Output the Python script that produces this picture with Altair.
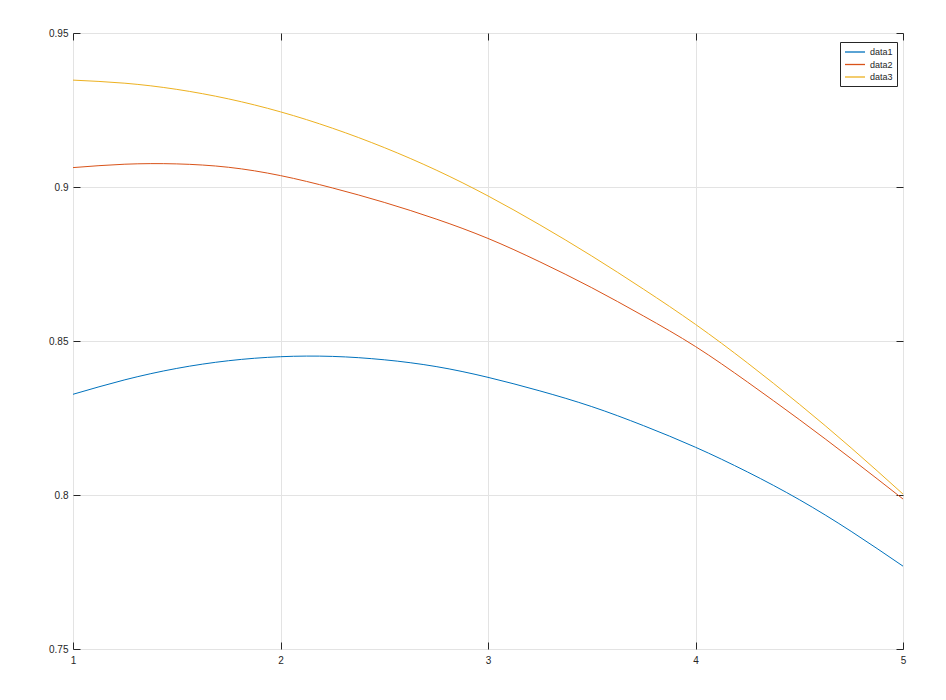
import altair as alt
import pandas as pd

x_vals = [1.0, 1.25, 1.5, 1.75, 2.0, 2.25, 2.5, 2.75, 3.0, 3.25, 3.5, 3.75, 4.0, 4.25, 4.5, 4.75, 5.0]
data1 = [0.8327, 0.8374, 0.8411, 0.8436, 0.8449, 0.8450, 0.8439, 0.8417, 0.8382, 0.8338, 0.8287, 0.8225, 0.8155, 0.8075, 0.7985, 0.7882, 0.7769]
data2 = [0.9063, 0.9074, 0.9075, 0.9064, 0.9037, 0.8997, 0.8950, 0.8896, 0.8833, 0.8757, 0.8673, 0.8581, 0.8482, 0.8367, 0.8245, 0.8118, 0.7987]
data3 = [0.9347, 0.9337, 0.9317, 0.9286, 0.9244, 0.9191, 0.9128, 0.9055, 0.8971, 0.8877, 0.8776, 0.8668, 0.8554, 0.8429, 0.8295, 0.8153, 0.8003]
series_names = ["data1", "data2", "data3"]
series_colors = ["#0072BD", "#D95319", "#EDB120"]
x_ticks = [1, 2, 3, 4, 5]
y_ticks = [0.75, 0.8, 0.85, 0.9, 0.95]

rows = []
for name, vals in zip(series_names, [data1, data2, data3]):
    for xv, yv in zip(x_vals, vals):
        rows.append({"x": xv, "y": yv, "series": name})
df = pd.DataFrame(rows)

FONT = "Liberation Sans"
TXT = "#262626"
GRID = "#e3e3e3"

xscale = alt.Scale(domain=[1, 5], nice=False, zero=False)
yscale = alt.Scale(domain=[0.75, 0.95], nice=False, zero=False)

common_axis = dict(
    grid=True, gridColor=GRID, gridWidth=1, domain=False,
    ticks=True, tickColor=TXT, tickSize=7, offset=-7, tickWidth=1,
    labelFont=FONT, labelFontSize=10, labelColor=TXT,
)

lines = alt.Chart(df).mark_line(strokeWidth=1, interpolate="natural").encode(
    x=alt.X("x:Q", scale=xscale, axis=alt.Axis(values=x_ticks, title=None, labelPadding=6, labelFlush=False, **common_axis)),
    y=alt.Y("y:Q", scale=yscale, axis=alt.Axis(values=y_ticks, title=None, labelPadding=5, format="~g", labelFlush=False, **common_axis)),
    color=alt.Color("series:N", scale=alt.Scale(domain=series_names, range=series_colors),
                    legend=alt.Legend(title=None, orient="none", legendX=767, legendY=9,
                                      symbolType="M-2,0L2,0", symbolSize=100, symbolStrokeWidth=1.3,
                                      symbolOffset=5,
                                      labelFont=FONT, labelFontSize=9, labelColor=TXT,
                                      strokeColor=TXT, fillColor="white", padding=4,
                                      rowPadding=1.5, labelOffset=9, cornerRadius=0)),
)

mirror_axis = dict(
    grid=False, domain=False, labels=False,
    ticks=True, tickColor=TXT, tickSize=7, offset=-7, tickWidth=1,
)

mirror = alt.Chart(df).mark_line(opacity=0).encode(
    x=alt.X("x:Q", scale=xscale, axis=alt.Axis(values=x_ticks, title=None, orient="top", **mirror_axis)),
    y=alt.Y("y:Q", scale=yscale, axis=alt.Axis(values=y_ticks, title=None, orient="right", **mirror_axis)),
    detail="series:N",
)

chart = alt.layer(lines, mirror).resolve_axis(x="independent", y="independent").properties(
    width=830, height=616,
    autosize=alt.AutoSizeParams(type="none"),
    padding={"left": 65, "top": 25, "right": 35, "bottom": 43},
).configure_view(stroke=TXT, strokeWidth=1).configure(background="white")

chart.save("out.html", embed_options={"renderer": "svg", "actions": False})
